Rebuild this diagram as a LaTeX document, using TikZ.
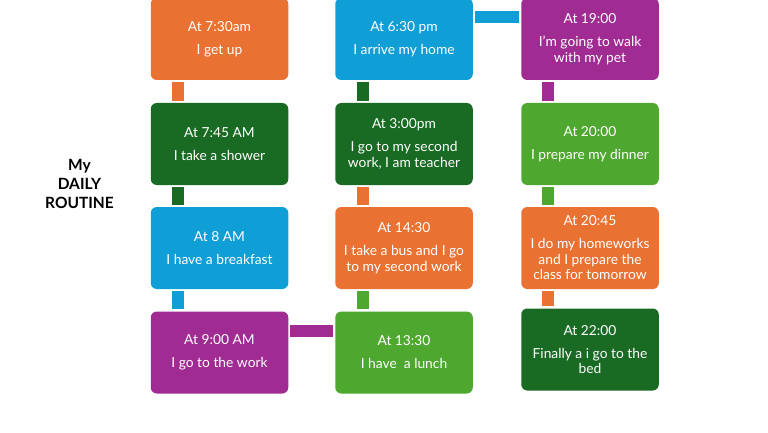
\documentclass[tikz,border=0pt]{standalone}
\usepackage{fontspec}
\setmainfont{Lato}
\definecolor{cOrange}{HTML}{E97132}
\definecolor{cBlue}{HTML}{0F9ED5}
\definecolor{cDkGreen}{HTML}{196B24}
\definecolor{cPurple}{HTML}{A02B93}
\definecolor{cGreen}{HTML}{4EA72E}
\tikzset{
  box/.style={rectangle, rounded corners=6pt, minimum width=137.5pt, minimum height=82pt,
    inner sep=0pt, text=white, align=center, font=\fontsize{13.8}{15.5}\selectfont},
  bar/.style={line width=12pt},
}
\begin{document}
\begin{tikzpicture}[x=1pt,y=-1pt]
\useasboundingbox (0,0) rectangle (768,433);
% column 1
\node[box, fill=cOrange]  (a1) at (219.5,39)    {At 7:30am\\[7.5pt]I get up};
\node[box, fill=cDkGreen] (a2) at (219.5,144)   {At 7:45 AM\\[7.5pt]I take a shower};
\node[box, fill=cBlue]    (a3) at (219.5,248)   {At 8 AM\\[7.5pt]I have a breakfast};
\node[box, fill=cPurple]  (a4) at (219.5,352.5) {At 9:00 AM\\[7.5pt]I go to the work};
% column 2
\node[box, fill=cBlue]    (b1) at (404,39)    {At 6:30 pm\\[7.5pt]I arrive my home};
\node[box, fill=cDkGreen] (b2) at (404,144)   {At 3:00pm\\[7.5pt]I go to my second\\work, I am teacher};
\node[box, fill=cOrange]  (b3) at (404,248)   {At 14:30\\[7.5pt]I take a bus and I go\\to my second work};
\node[box, fill=cGreen]   (b4) at (404,352.5) {At 13:30\\[7.5pt]I have\ \ a lunch};
% column 3
\node[box, fill=cPurple]  (c1) at (590,39)    {At 19:00\\[7.5pt]I'm going to walk\\with my pet};
\node[box, fill=cGreen]   (c2) at (590,144)   {At 20:00\\[7.5pt]I prepare my dinner};
\node[box, fill=cOrange]  (c3) at (590,248)   {At 20:45\\[7.5pt]I do my homeworks\\and I prepare the\\class for tomorrow};
\node[box, fill=cDkGreen] (c4) at (590,349.5) {At 22:00\\[7.5pt]Finally a i go to the\\bed};
% title
\node[align=center, font=\fontsize{15.5}{19}\selectfont\bfseries] (t) at (79.5,184) {My\\DAILY\\ROUTINE};
% connectors
\draw[bar, cOrange]  ([xshift=-41.5pt,yshift=-2pt]a1.south) -- ([xshift=-41.5pt,yshift=2pt]a2.north);
\draw[bar, cDkGreen] ([xshift=-41.5pt,yshift=-2pt]a2.south) -- ([xshift=-41.5pt,yshift=2pt]a3.north);
\draw[bar, cBlue]    ([xshift=-41.5pt,yshift=-2pt]a3.south) -- ([xshift=-41.5pt,yshift=2pt]a4.north);
\draw[bar, cPurple]  ([xshift=2pt,yshift=21.5pt]a4.east) -- ([xshift=-2pt,yshift=21.5pt]b4.west);
\draw[bar, cGreen]   ([xshift=-41pt,yshift=2pt]b4.north) -- ([xshift=-41pt,yshift=-2pt]b3.south);
\draw[bar, cOrange]  ([xshift=-41pt,yshift=2pt]b3.north) -- ([xshift=-41pt,yshift=-2pt]b2.south);
\draw[bar, cDkGreen] ([xshift=-41pt,yshift=2pt]b2.north) -- ([xshift=-41pt,yshift=-2pt]b1.south);
\draw[bar, cBlue]    ([xshift=2pt,yshift=21.5pt]b1.east) -- ([xshift=-2pt,yshift=21.5pt]c1.west);
\draw[bar, cPurple]  ([xshift=-42pt,yshift=-2pt]c1.south) -- ([xshift=-42pt,yshift=2pt]c2.north);
\draw[bar, cGreen]   ([xshift=-42pt,yshift=-2pt]c2.south) -- ([xshift=-42pt,yshift=2pt]c3.north);
\draw[bar, cOrange]  ([xshift=-42pt,yshift=-2pt]c3.south) -- ([xshift=-42pt,yshift=2pt]c4.north);
\end{tikzpicture}
\end{document}
